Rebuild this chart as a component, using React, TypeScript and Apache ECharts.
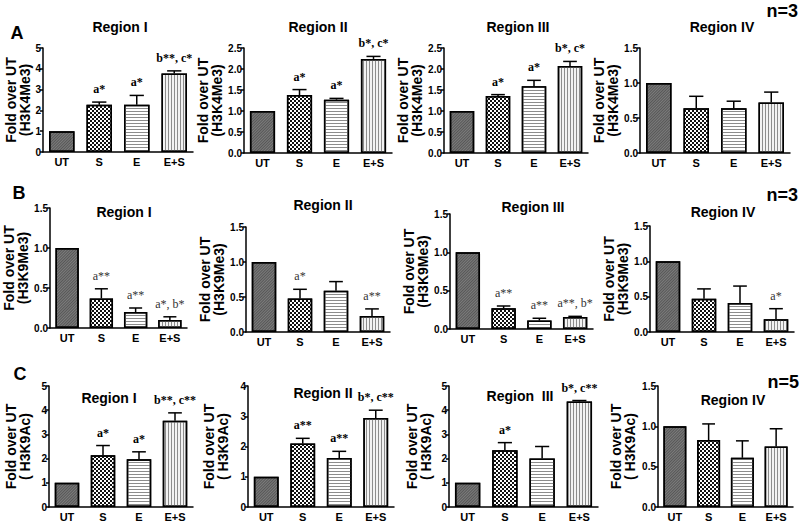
import React, { useEffect, useRef } from "react";
import * as echarts from "echarts";

const categories = ["UT", "S", "E", "E+S"];

// Row A: H3K4Me3
const k4Region1 = [1, 2.27, 2.27, 3.78];
const k4Region1Err = [0, 0.13, 0.45, 0.12];
const k4Region1Sig = ["", "a*", "a*", "b**, c*"];
const k4Region2 = [1, 1.38, 1.27, 2.24];
const k4Region2Err = [0, 0.13, 0.03, 0.06];
const k4Region2Sig = ["", "a*", "a*", "b*, c*"];
const k4Region3 = [1, 1.36, 1.59, 2.07];
const k4Region3Err = [0, 0.03, 0.14, 0.11];
const k4Region3Sig = ["", "a*", "a*", "b*, c*"];
const k4Region4 = [1, 0.64, 0.64, 0.72];
const k4Region4Err = [0, 0.17, 0.1, 0.15];
const k4Region4Sig = ["", "", "", ""];

// Row B: H3K9Me3
const k9meRegion1 = [1, 0.37, 0.2, 0.1];
const k9meRegion1Err = [0, 0.12, 0.05, 0.04];
const k9meRegion1Sig = ["", "a**", "a**", "a*, b*"];
const k9meRegion2 = [1, 0.48, 0.59, 0.23];
const k9meRegion2Err = [0, 0.13, 0.13, 0.1];
const k9meRegion2Sig = ["", "a*", "", "a**"];
const k9meRegion3 = [1, 0.27, 0.11, 0.155];
const k9meRegion3Err = [0, 0.03, 0.03, 0.01];
const k9meRegion3Sig = ["", "a**", "a**", "a**, b*"];
const k9meRegion4 = [1, 0.47, 0.41, 0.18];
const k9meRegion4Err = [0, 0.14, 0.24, 0.15];
const k9meRegion4Sig = ["", "", "", "a*"];

// Row C: H3K9Ac
const k9acRegion1 = [1, 2.14, 1.97, 3.56];
const k9acRegion1Err = [0, 0.4, 0.31, 0.33];
const k9acRegion1Sig = ["", "a*", "a*", "b**, c**"];
const k9acRegion2 = [1, 2.1, 1.62, 2.94];
const k9acRegion2Err = [0, 0.17, 0.22, 0.26];
const k9acRegion2Sig = ["", "a**", "a**", "b*, c**"];
const k9acRegion3 = [1, 2.34, 2.0, 4.36];
const k9acRegion3Err = [0, 0.32, 0.5, 0.04];
const k9acRegion3Sig = ["", "a*", "", "b*, c**"];
const k9acRegion4 = [1, 0.83, 0.61, 0.75];
const k9acRegion4Err = [0, 0.2, 0.21, 0.22];
const k9acRegion4Sig = ["", "", "", ""];

const SANS = '"Liberation Sans", Arial, sans-serif';
const SERIF = '"Liberation Serif", "Times New Roman", serif';

type Panel = {
  values: number[];
  errs: number[];
  sig: string[];
  x0: number;
  x1: number;
  yTop: number;
  y0: number;
  max: number;
  interval: number;
  nameGap: number;
  yName: string;
  sigBold: boolean;
  sigColor: string;
};

const K4 = "Fold over UT\n(H3K4Me3)";
const K9ME = "Fold over UT\n(H3K9Me3)";
const K9AC = "Fold over UT\n( H3K9Ac)";

const panels: Panel[] = [
  { values: k4Region1, errs: k4Region1Err, sig: k4Region1Sig, x0: 43, x1: 193, yTop: 48, y0: 152, max: 5, interval: 1, nameGap: 10, yName: K4, sigBold: true, sigColor: "#000" },
  { values: k4Region2, errs: k4Region2Err, sig: k4Region2Sig, x0: 244, x1: 392, yTop: 48, y0: 153, max: 2.5, interval: 0.5, nameGap: 15, yName: K4, sigBold: true, sigColor: "#000" },
  { values: k4Region3, errs: k4Region3Err, sig: k4Region3Sig, x0: 444, x1: 588, yTop: 48, y0: 153, max: 2.5, interval: 0.5, nameGap: 13, yName: K4, sigBold: true, sigColor: "#000" },
  { values: k4Region4, errs: k4Region4Err, sig: k4Region4Sig, x0: 640, x1: 790, yTop: 48, y0: 153, max: 1.5, interval: 0.5, nameGap: 12, yName: K4, sigBold: true, sigColor: "#000" },
  { values: k9meRegion1, errs: k9meRegion1Err, sig: k9meRegion1Sig, x0: 50, x1: 187, yTop: 208, y0: 328, max: 1.5, interval: 0.5, nameGap: 15, yName: K9ME, sigBold: false, sigColor: "#333" },
  { values: k9meRegion2, errs: k9meRegion2Err, sig: k9meRegion2Sig, x0: 246, x1: 390, yTop: 227, y0: 332, max: 1.5, interval: 0.5, nameGap: 13, yName: K9ME, sigBold: false, sigColor: "#333" },
  { values: k9meRegion3, errs: k9meRegion3Err, sig: k9meRegion3Sig, x0: 450, x1: 593, yTop: 214, y0: 329, max: 1.5, interval: 0.5, nameGap: 17, yName: K9ME, sigBold: false, sigColor: "#333" },
  { values: k9meRegion4, errs: k9meRegion4Err, sig: k9meRegion4Sig, x0: 650, x1: 794, yTop: 226, y0: 332, max: 1.5, interval: 0.5, nameGap: 15, yName: K9ME, sigBold: false, sigColor: "#333" },
  { values: k9acRegion1, errs: k9acRegion1Err, sig: k9acRegion1Sig, x0: 49, x1: 193, yTop: 386, y0: 507, max: 5, interval: 1, nameGap: 17, yName: K9AC, sigBold: true, sigColor: "#000" },
  { values: k9acRegion2, errs: k9acRegion2Err, sig: k9acRegion2Sig, x0: 248, x1: 394, yTop: 386, y0: 507, max: 4, interval: 1, nameGap: 18, yName: K9AC, sigBold: true, sigColor: "#000" },
  { values: k9acRegion3, errs: k9acRegion3Err, sig: k9acRegion3Sig, x0: 449, x1: 598, yTop: 386, y0: 507, max: 5, interval: 1, nameGap: 16, yName: K9AC, sigBold: true, sigColor: "#000" },
  { values: k9acRegion4, errs: k9acRegion4Err, sig: k9acRegion4Sig, x0: 658, x1: 793, yTop: 386, y0: 507, max: 1.5, interval: 0.5, nameGap: 21, yName: K9AC, sigBold: true, sigColor: "#000" },
];

const titles = [
  { t: "Region I", x: 120, y: 27 },
  { t: "Region II", x: 318, y: 27 },
  { t: "Region III", x: 518, y: 27 },
  { t: "Region IV", x: 722, y: 27 },
  { t: "Region I", x: 124, y: 212 },
  { t: "Region II", x: 323, y: 205 },
  { t: "Region III", x: 533, y: 207 },
  { t: "Region IV", x: 723, y: 212 },
  { t: "Region I", x: 109, y: 398 },
  { t: "Region II", x: 323, y: 393 },
  { t: "Region  III", x: 520, y: 396 },
  { t: "Region IV", x: 733, y: 400 },
];

const barStyles = [
  {
    color: "#7c7c7c",
    decal: { symbol: "rect", symbolSize: 1, color: "rgba(0,0,0,0.3)", dashArrayX: [1, 0], dashArrayY: [1, 1], rotation: -Math.PI / 4 },
  },
  {
    color: "#ffffff",
    decal: { symbol: "rect", symbolSize: 1, color: "#111", dashArrayX: [[2, 2], [0, 2, 2, 0]], dashArrayY: [2, 0], rotation: 0 },
  },
  {
    color: "#ffffff",
    decal: { symbol: "rect", symbolSize: 1, color: "#8c8c8c", dashArrayX: [1, 0], dashArrayY: [1, 1.2], rotation: 0 },
  },
  {
    color: "#f2f2f2",
    decal: { symbol: "rect", symbolSize: 1, color: "#8c8c8c", dashArrayX: [1, 1.2], dashArrayY: [1, 0], rotation: 0 },
  },
];

export default function App() {
  const ref = useRef<HTMLDivElement>(null);
  useEffect(() => {
    document.body.style.margin = "0";
    if (!ref.current) return;
    const chart = echarts.init(ref.current, null, { renderer: "svg" });

    const grid = panels.map((p) => ({
      left: p.x0,
      top: p.yTop,
      width: p.x1 - p.x0,
      height: p.y0 - p.yTop,
      containLabel: false,
    }));

    const xAxis = panels.map((p, i) => ({
      type: "category",
      gridIndex: i,
      data: categories,
      axisLine: { lineStyle: { color: "#000", width: 1.5 } },
      axisTick: { show: false },
      axisLabel: { color: "#000", fontWeight: "bold", fontSize: 11, fontFamily: SANS, margin: 4 },
    }));

    const yAxis = panels.map((p, i) => ({
      type: "value",
      gridIndex: i,
      min: 0,
      max: p.max,
      interval: p.interval,
      name: p.yName,
      nameLocation: "middle",
      nameGap: p.nameGap,
      nameTextStyle: { color: "#000", fontWeight: "bold", fontSize: 14, lineHeight: 14, fontFamily: SANS },
      axisLine: { show: true, lineStyle: { color: "#000", width: 1.5 } },
      axisTick: { show: true, length: 3, lineStyle: { color: "#000", width: 1.5 } },
      axisLabel: {
        color: "#000",
        fontWeight: "bold",
        fontSize: 10,
        fontFamily: SANS,
        margin: 2,
        formatter: (v: number) => (p.interval < 1 ? v.toFixed(1) : String(v)),
      },
      splitLine: { show: false },
    }));

    const series: any[] = [];
    panels.forEach((p, i) => {
      series.push({
        type: "bar",
        xAxisIndex: i,
        yAxisIndex: i,
        barWidth: "68%",
        data: p.values.map((v, k) => ({
          value: v,
          itemStyle: { ...barStyles[k], borderColor: "#000", borderWidth: 1.5 },
        })),
        z: 2,
      });
      series.push({
        type: "custom",
        xAxisIndex: i,
        yAxisIndex: i,
        z: 3,
        encode: { x: 0, y: 1 },
        data: p.values.map((v, k) => [k, v, p.errs[k]]),
        renderItem: (params: any, api: any) => {
          const idx = params.dataIndex;
          const v = api.value(1);
          const e = api.value(2);
          const base = api.coord([idx, v]);
          const top = api.coord([idx, v + e]);
          const bw = api.size([1, 0])[0];
          const half = bw * 0.19;
          const children: any[] = [];
          if (e > 0) {
            children.push({
              type: "line",
              shape: { x1: base[0], y1: base[1], x2: base[0], y2: top[1] },
              style: { stroke: "#000", lineWidth: 1.5 },
            });
            children.push({
              type: "line",
              shape: { x1: base[0] - half, y1: top[1], x2: base[0] + half, y2: top[1] },
              style: { stroke: "#000", lineWidth: 1.5 },
            });
          }
          const s = p.sig[idx];
          if (s) {
            children.push({
              type: "text",
              x: base[0],
              y: top[1] - 13,
              style: {
                text: s,
                align: "center",
                verticalAlign: "middle",
                fontSize: 12,
                fontFamily: SERIF,
                fontWeight: p.sigBold ? "bold" : "normal",
                fill: p.sigColor,
              },
            });
          }
          return { type: "group", children };
        },
      });
    });

    const graphic: any[] = titles.map((t) => ({
      type: "text",
      x: t.x,
      y: t.y,
      style: { text: t.t, align: "center", verticalAlign: "middle", fontSize: 14, fontWeight: "bold", fontFamily: SANS, fill: "#000" },
    }));
    const big = [
      { t: "A", x: 17, y: 33, a: "center" },
      { t: "B", x: 19, y: 193, a: "center" },
      { t: "C", x: 20, y: 374, a: "center" },
      { t: "n=3", x: 798, y: 11, a: "right" },
      { t: "n=3", x: 798, y: 195, a: "right" },
      { t: "n=5", x: 799, y: 382, a: "right" },
    ];
    big.forEach((b) =>
      graphic.push({
        type: "text",
        x: b.x,
        y: b.y,
        style: { text: b.t, align: b.a, verticalAlign: "middle", fontSize: 18, fontWeight: "bold", fontFamily: SANS, fill: "#000" },
      })
    );

    chart.setOption({
      animation: false,
      backgroundColor: "#ffffff",
      grid,
      xAxis,
      yAxis,
      series,
      graphic,
    });
    return () => chart.dispose();
  }, []);
  return <div ref={ref} style={{ width: 800, height: 524 }} />;
}
